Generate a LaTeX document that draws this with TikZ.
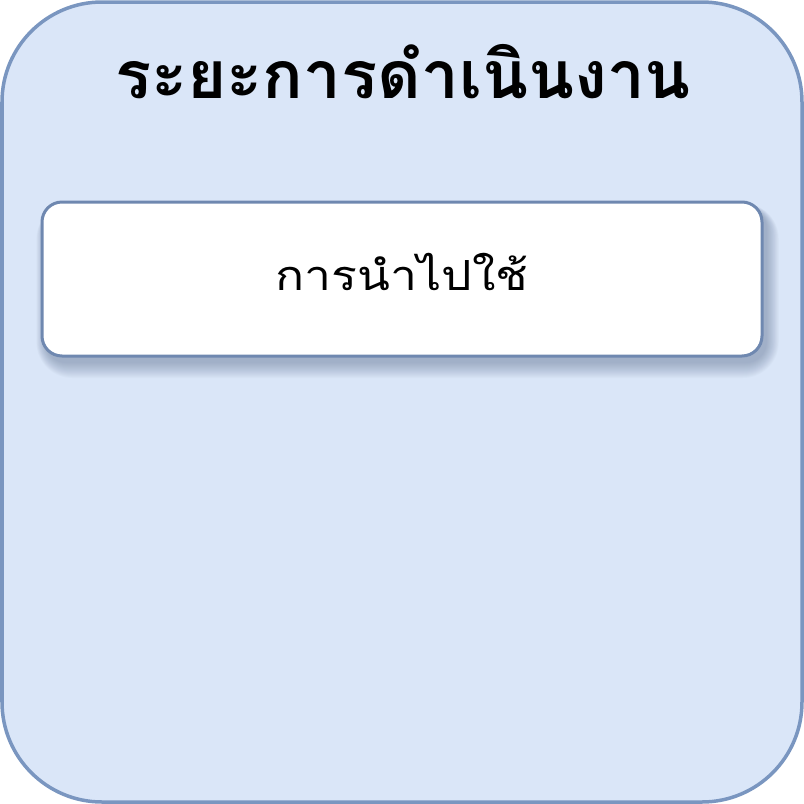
\documentclass[tikz,border=0pt]{standalone}
\usepackage{fontspec}
\newfontfamily\thaifont[Script=Thai]{Loma}
\definecolor{outerfill}{HTML}{DAE6F8}
\definecolor{outerline}{HTML}{7A96C0}
\definecolor{innerline}{HTML}{6F88B0}
\definecolor{shadowcol}{HTML}{5A6F90}
\tikzset{
  outerbox/.style={draw=outerline, line width=3.5pt, fill=outerfill, rounded corners=100pt},
  innerbox/.style={draw=innerline, line width=3pt, fill=white, rounded corners=20pt},
  shadowlayer/.style={fill=shadowcol, fill opacity=0.03, draw=none},
}
\begin{document}
\begin{tikzpicture}[x=1pt,y=-1pt]
\useasboundingbox (0,0) rectangle (804,804);
\draw[outerbox] (2,2) rectangle (802,802);
\node[anchor=center, xscale=1.02, font=\thaifont\bfseries\fontsize{66}{70}\selectfont] (title) at (403,72) {ระยะการดำเนินงาน};
\foreach \i in {1,...,16} {
  \fill[shadowlayer, rounded corners={20pt+\i pt}] ({46-0.6*\i},{208-0.3*\i}) rectangle ({766+0.8*\i},{362+\i});
}
\draw[innerbox] (42,202) rectangle (762,356);
\coordinate (boxc) at (402,272);
\node[anchor=center, xscale=1.16, font=\thaifont\fontsize{41.5}{44}\selectfont] (item) at (boxc) {การนำไปใช้};
\end{tikzpicture}
\end{document}
